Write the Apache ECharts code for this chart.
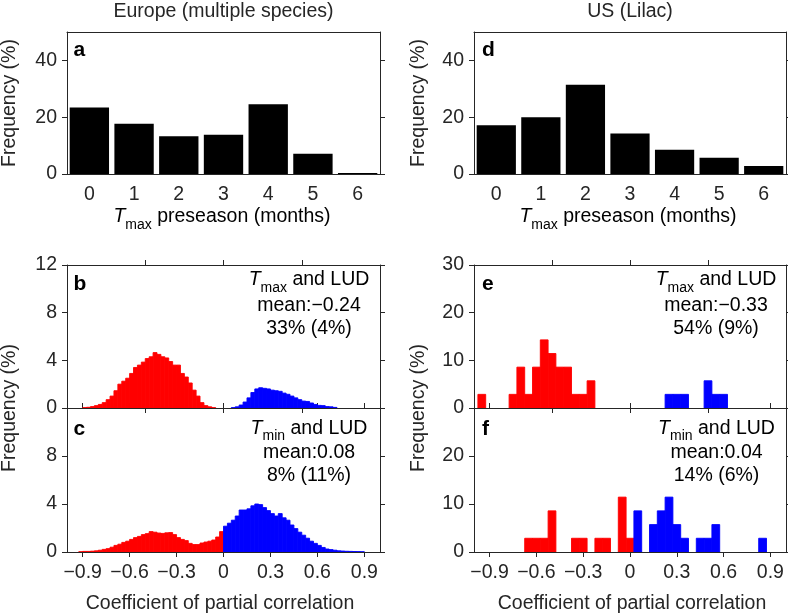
<!DOCTYPE html>
<html><head><meta charset="utf-8">
<script src="https://cdn.jsdelivr.net/npm/echarts@6/dist/echarts.min.js"></script>
<style>html,body{margin:0;padding:0;background:#fff}#c{width:788px;height:616px}</style>
</head><body><div id="c"></div>
<script>
const FONT = '"Liberation Sans", Arial, Helvetica, sans-serif';
const FS = 19.5;
const AX = '#262626';

// ---- data ----
const preseasonCats = ['0', '1', '2', '3', '4', '5', '6'];
const europePreseason = [23.4, 17.7, 13.3, 13.8, 24.6, 7.1, 0.35];
const usPreseason = [17.14, 20.0, 31.43, 14.29, 8.57, 5.71, 2.86];
const preseasonTicks = [0, 20, 40];

const corrTicks = [-0.9, -0.6, -0.3, 0, 0.3, 0.6, 0.9];
const corrTicksMirror = [-0.5, 0, 0.5];
const euFreqTicks = [0, 4, 8, 12];
const euFreqLabelsLower = [0, 4, 8];
const usFreqTicks = [0, 10, 20, 30];
const usFreqLabelsLower = [0, 10, 20];

// Europe histograms: bin width 0.025, values start at given left edge
const EU_BIN = 0.025;
const bRedStart = -0.9;
const bRed = [0.03, 0.06, 0.12, 0.2, 0.3, 0.45, 0.7, 1.0, 1.45, 2.0, 2.25, 2.5, 2.9, 3.4, 3.6, 3.85, 4.15, 4.3, 4.65, 4.5, 4.3, 4.2, 3.9, 3.6, 3.6, 2.9, 2.6, 2.1, 1.5, 1.0, 0.45, 0.2, 0.1, 0.03];
const bBlueStart = 0.05;
const bBlue = [0.03, 0.1, 0.25, 0.5, 0.85, 1.3, 1.6, 1.7, 1.65, 1.6, 1.5, 1.45, 1.4, 1.25, 1.15, 1.0, 0.85, 0.7, 0.58, 0.55, 0.42, 0.3, 0.22, 0.2, 0.12, 0.1, 0.05];
const cRedStart = -0.925;
const cRed = [0.02, 0.05, 0.05, 0.07, 0.1, 0.15, 0.22, 0.28, 0.4, 0.55, 0.65, 0.8, 0.9, 1.05, 1.2, 1.3, 1.45, 1.53, 1.7, 1.65, 1.58, 1.55, 1.6, 1.62, 1.45, 1.2, 1.05, 0.95, 0.72, 0.62, 0.62, 0.75, 0.83, 0.9, 1.0, 1.25, 1.7];
const cBlueStart = 0.0;
const cBlue = [2.15, 2.4, 2.65, 3.0, 3.5, 3.5, 3.6, 3.85, 4.0, 3.95, 3.7, 3.45, 3.2, 3.0, 3.2, 2.85, 2.65, 2.25, 1.95, 1.65, 1.4, 1.15, 0.9, 0.72, 0.55, 0.38, 0.25, 0.2, 0.15, 0.1, 0.08, 0.06, 0.05, 0.04, 0.03, 0.02];

// US histograms: bin width 0.05, bin centres listed
const US_BIN = 0.05;
const eRedX = [-0.95, -0.75, -0.70, -0.65, -0.60, -0.55, -0.50, -0.45, -0.40, -0.35, -0.30, -0.25];
const eRedY = [2.86, 2.86, 8.57, 2.86, 8.57, 14.29, 11.43, 8.57, 8.57, 2.86, 2.86, 5.71];
const eBlueX = [0.25, 0.30, 0.35, 0.50, 0.55, 0.60];
const eBlueY = [2.86, 2.86, 2.86, 5.71, 2.86, 2.86];
const fRedX = [-0.65, -0.60, -0.55, -0.50, -0.35, -0.30, -0.20, -0.15, -0.05, 0.00];
const fRedY = [2.86, 2.86, 2.86, 8.57, 2.86, 2.86, 2.86, 2.86, 11.43, 2.86];
const fBlueX = [0.05, 0.15, 0.20, 0.25, 0.30, 0.35, 0.45, 0.50, 0.55, 0.85];
const fBlueY = [8.57, 5.71, 8.57, 11.43, 5.71, 2.86, 2.86, 2.86, 5.71, 2.86];

// ---- build ----
function euBins(start, vals) {
  return vals.map((v, i) => [start + i * EU_BIN, start + (i + 1) * EU_BIN, v]);
}
function usBins(xs, vals) {
  return xs.map((c, i) => [c - US_BIN / 2, c + US_BIN / 2, vals[i]]);
}
function histRender(color) {
  return function (params, api) {
    const x0 = api.value(0), x1 = api.value(1), y = api.value(2);
    const p0 = api.coord([x0, 0]), p1 = api.coord([x1, y]);
    return {
      type: 'rect',
      shape: { x: p0[0], y: p1[1], width: p1[0] - p0[0], height: p0[1] - p1[1] },
      style: { fill: color, stroke: color, lineWidth: 0.9 }
    };
  };
}
function corrFmt(v) {
  if (Math.abs(v) < 1e-9) return '0';
  return (v < 0 ? '\u2212' : '') + Math.abs(v).toFixed(1);
}

const grids = [
  { left: 67, top: 32, width: 313, height: 142 },   // a
  { left: 474, top: 32, width: 312, height: 142 },  // d
  { left: 67, top: 265, width: 313, height: 143 },  // b
  { left: 67, top: 408, width: 313, height: 144 },  // c
  { left: 474, top: 265, width: 312, height: 143 }, // e
  { left: 474, top: 408, width: 312, height: 144 }  // f
];

const lineStyle = { color: AX, width: 1 };
const labelBase = { color: AX, fontSize: FS, fontFamily: FONT };
const axLine = { show: true, onZero: false, lineStyle };

const xAxes = [], yAxes = [];
function catX(g) {
  xAxes.push({ type: 'category', gridIndex: g, data: preseasonCats, position: 'bottom',
    axisLine: axLine, axisTick: { length: 5, alignWithLabel: true, lineStyle },
    axisLabel: Object.assign({ margin: 11, interval: 0 }, labelBase), splitLine: { show: false } });
  xAxes.push({ type: 'category', gridIndex: g, data: preseasonCats, position: 'top',
    axisLine: axLine, axisTick: { length: 5, alignWithLabel: true, lineStyle },
    axisLabel: { show: false }, splitLine: { show: false } });
}
function valX(g, bottomTicks, bottomLabels, topTicks) {
  xAxes.push({ type: 'value', gridIndex: g, min: -1, max: 1, position: 'bottom',
    axisLine: axLine, axisTick: { length: 5, lineStyle, customValues: bottomTicks },
    axisLabel: bottomLabels ? Object.assign({ margin: 11, customValues: bottomLabels, formatter: corrFmt }, labelBase) : { show: false },
    splitLine: { show: false } });
  xAxes.push({ type: 'value', gridIndex: g, min: -1, max: 1, position: 'top',
    axisLine: axLine, axisTick: { length: 5, lineStyle, customValues: topTicks },
    axisLabel: { show: false }, splitLine: { show: false } });
}
function valY(g, max, ticks, labels) {
  yAxes.push({ type: 'value', gridIndex: g, min: 0, max: max, position: 'left',
    axisLine: axLine, axisTick: { show: true, length: 5, lineStyle, customValues: ticks },
    axisLabel: Object.assign({ margin: 10, customValues: labels }, labelBase), splitLine: { show: false } });
  yAxes.push({ type: 'value', gridIndex: g, min: 0, max: max, position: 'right',
    axisLine: axLine, axisTick: { show: true, length: 5, lineStyle, customValues: ticks },
    axisLabel: { show: false }, splitLine: { show: false } });
}

// a (grid 0), d (grid 1)
catX(0); valY(0, 50, preseasonTicks, preseasonTicks);
catX(1); valY(1, 50, preseasonTicks, preseasonTicks);
// b (grid 2)
valX(2, corrTicksMirror, null, corrTicksMirror); valY(2, 12, euFreqTicks, euFreqTicks);
// c (grid 3)
valX(3, corrTicks, corrTicks, corrTicks); valY(3, 12, euFreqTicks, euFreqLabelsLower);
// e (grid 4)
valX(4, corrTicksMirror, null, corrTicksMirror); valY(4, 30, usFreqTicks, usFreqTicks);
// f (grid 5)
valX(5, corrTicks, corrTicks, corrTicks); valY(5, 30, usFreqTicks, usFreqLabelsLower);

function ax(g) { return { xAxisIndex: g * 2, yAxisIndex: g * 2 }; }
function hist(g, data, color) {
  return Object.assign({ type: 'custom', renderItem: histRender(color), data: data,
    encode: { x: [0, 1], y: 2 }, clip: true, silent: true }, ax(g));
}

const series = [
  Object.assign({ type: 'bar', data: europePreseason, barCategoryGap: '12%',
    itemStyle: { color: '#000' }, silent: true }, ax(0)),
  Object.assign({ type: 'bar', data: usPreseason, barCategoryGap: '12%',
    itemStyle: { color: '#000' }, silent: true }, ax(1)),
  hist(2, euBins(bRedStart, bRed), '#ff0000'),
  hist(2, euBins(bBlueStart, bBlue), '#0000ff'),
  hist(3, euBins(cRedStart, cRed), '#ff0000'),
  hist(3, euBins(cBlueStart, cBlue), '#0000ff'),
  hist(4, usBins(eRedX, eRedY), '#ff0000'),
  hist(4, usBins(eBlueX, eBlueY), '#0000ff'),
  hist(5, usBins(fRedX, fRedY), '#ff0000'),
  hist(5, usBins(fBlueX, fBlueY), '#0000ff')
];

// ---- text ----
const richT = {
  i: { fontStyle: 'italic', fontSize: FS, fontFamily: FONT, lineHeight: 30 },
  s: { fontSize: 14, fontFamily: FONT, lineHeight: 14, verticalAlign: 'bottom' },
  n: { fontSize: FS, fontFamily: FONT, lineHeight: 30 }
};
function txt(x, y, text, extra) {
  return { type: 'text', x: x, y: y, silent: true,
    style: Object.assign({ text: text, fill: '#000', fontSize: FS, fontFamily: FONT, align: 'center', verticalAlign: 'middle' }, extra || {}) };
}
function richTxt(x, y, text) {
  return { type: 'text', x: x, y: y, silent: true,
    style: { text: text, rich: richT, fill: '#000', fontSize: FS, fontFamily: FONT, align: 'center', verticalAlign: 'middle' } };
}
function letter(x, y, t) {
  return txt(x, y, t, { align: 'left', fontWeight: 'bold', fontSize: 21 });
}
function vName(x, y) {
  const el = txt(x, y, 'Frequency (%)', { fill: AX });
  el.rotation = Math.PI / 2;
  return el;
}
function annot(x, ys, sub, l2, l3) {
  return [
    richTxt(x, ys[0], '{i|T}{s|' + sub + '}{n| and LUD}'),
    txt(x, ys[1], l2),
    txt(x, ys[2], l3)
  ];
}
const upperYs = [279.7, 305.5, 328.5];
const lowerYs = [428.5, 453, 475.5];

const graphics = [
  txt(223.5, 12, 'Europe (multiple species)', { fill: AX }),
  txt(630, 12, 'US (Lilac)', { fill: AX }),
  letter(73.5, 50.7, 'a'), letter(482, 50.7, 'd'),
  letter(73.5, 284.7, 'b'), letter(482, 284.7, 'e'),
  letter(73.5, 429.7, 'c'), letter(482, 429.7, 'f'),
  vName(10, 103), vName(418.7, 103), vName(10, 408), vName(418.7, 408),
  richTxt(222, 217, '{i|T}{s|max}{n| preseason (months)}'),
  richTxt(628, 217, '{i|T}{s|max}{n| preseason (months)}'),
  txt(220, 604, 'Coefficient of partial correlation', { fill: AX }),
  txt(632, 604, 'Coefficient of partial correlation', { fill: AX })
].concat(
  annot(309, upperYs, 'max', 'mean:\u22120.24', '33% (4%)'),
  annot(309, lowerYs, 'min', 'mean:0.08', '8% (11%)'),
  annot(716, upperYs, 'max', 'mean:\u22120.33', '54% (9%)'),
  annot(716.5, lowerYs, 'min', 'mean:0.04', '14% (6%)')
);

const chart = echarts.init(document.getElementById('c'), null, { renderer: 'canvas' });
chart.setOption({
  animation: false,
  backgroundColor: '#fff',
  grid: grids,
  xAxis: xAxes,
  yAxis: yAxes,
  series: series,
  graphic: graphics
});
</script>
</body></html>
